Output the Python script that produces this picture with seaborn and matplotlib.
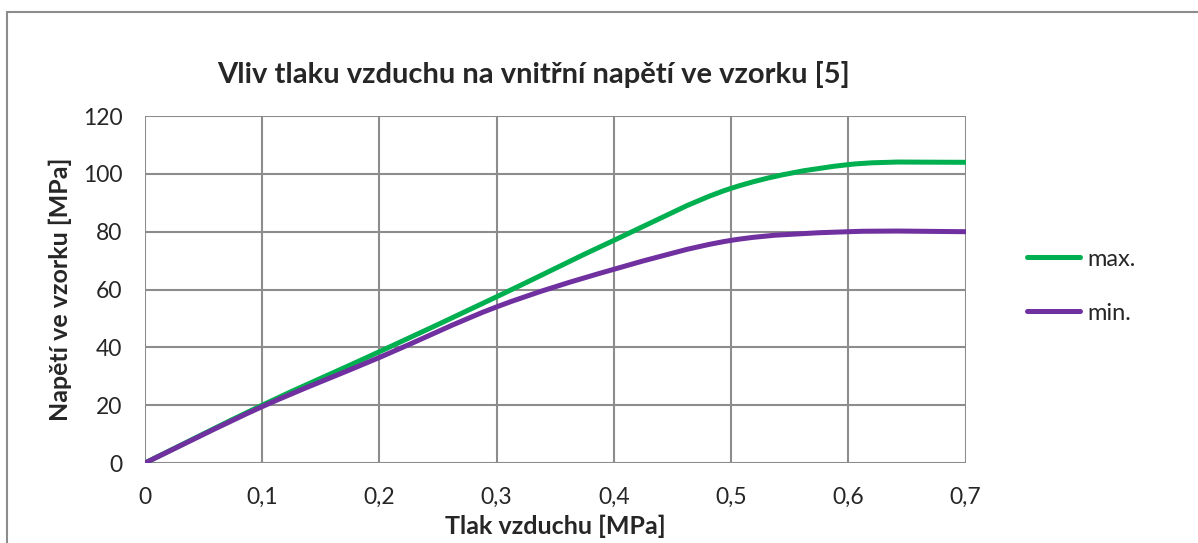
import seaborn as sns
import matplotlib.pyplot as plt
import pandas as pd
import numpy as np
from matplotlib.path import Path
from matplotlib.patches import PathPatch, Rectangle

# values
tlak = [0, 0.1, 0.2, 0.3, 0.4, 0.5, 0.6, 0.7]
napeti_max = [0, 20, 38.5, 57.5, 77, 95, 103.2, 104]
napeti_min = [0, 19.5, 36.5, 54, 67, 77, 80, 80]
series_names = ["max.", "min."]
x_ticks = [0, 0.1, 0.2, 0.3, 0.4, 0.5, 0.6, 0.7]
x_tick_labels = ["0", "0,1", "0,2", "0,3", "0,4", "0,5", "0,6", "0,7"]
y_ticks = [0, 20, 40, 60, 80, 100, 120]

df = pd.concat([
    pd.DataFrame({"tlak": tlak, "napeti": napeti_max, "serie": series_names[0]}),
    pd.DataFrame({"tlak": tlak, "napeti": napeti_min, "serie": series_names[1]}),
])

sns.set_style("white")
plt.rcParams["font.family"] = ["Lato", "DejaVu Sans"]

fig = plt.figure(figsize=(11.98, 5.43), dpi=100)
ax = fig.add_axes([0.121, 0.1473, 0.685, 0.639])

colors = {"max.": "#00B050", "min.": "#7030A0"}
sns.lineplot(data=df, x="tlak", y="napeti", hue="serie", palette=colors,
             linewidth=3.6, legend=False, ax=ax)

ax.set_xlim(0, 0.7)
ax.set_ylim(0, 120)
ax.set_xticks(x_ticks)
ax.set_xticklabels(x_tick_labels)
ax.set_yticks(y_ticks)
ax.grid(True, color="#8c8c8c", linewidth=1.5)
ax.set_axisbelow(True)
for s in ax.spines.values():
    s.set_visible(False)
ax.tick_params(axis="both", length=7.2, width=1.5, color="#8c8c8c",
               labelsize=16.5, direction="out")
ax.tick_params(axis="y", pad=9)
ax.tick_params(axis="x", pad=10)

ax.set_xlabel("Tlak vzduchu [MPa]", fontsize=18, fontweight="bold", labelpad=5)
ax.set_ylabel("Napětí ve vzorku [MPa]", fontsize=18, fontweight="bold", labelpad=8)
fig.text(0.445, 0.862, "Vliv tlaku vzduchu na vnitřní napětí ve vzorku [5]",
         ha="center", va="center", fontsize=21, fontweight="bold")

# legend from seaborn's lines, then smooth lines like Excel does
lines = list(ax.lines)
leg = ax.legend(lines, series_names, loc="center left", frameon=False,
                bbox_to_anchor=(1027 / 1198, 0.473), bbox_transform=fig.transFigure,
                fontsize=17, handlelength=2.25, handletextpad=0.3,
                labelspacing=1.4, borderpad=0, borderaxespad=0)
for line in lines:
    x, y = line.get_xdata(), line.get_ydata()
    pts = np.column_stack([x, y])
    verts = [pts[0]]
    codes = [Path.MOVETO]
    n = len(pts)
    for i in range(n - 1):
        p0 = pts[max(i - 1, 0)]
        p1 = pts[i]
        p2 = pts[i + 1]
        p3 = pts[min(i + 2, n - 1)]
        verts += [p1 + (p2 - p0) / 6, p2 - (p3 - p1) / 6, p2]
        codes += [Path.CURVE4] * 3
    ax.add_patch(PathPatch(Path(verts, codes), fill=False, edgecolor=line.get_color(),
                           linewidth=3.6, capstyle="round", joinstyle="round", zorder=3))
    line.set_visible(False)

# outer chart border
fig.patches.append(Rectangle((7 / 1198, -0.1), 1.2, 1.1 - 12 / 543,
                             transform=fig.transFigure, fill=False,
                             edgecolor="#8c8c8c", linewidth=1.5))

fig.savefig("out.png", dpi=100)
